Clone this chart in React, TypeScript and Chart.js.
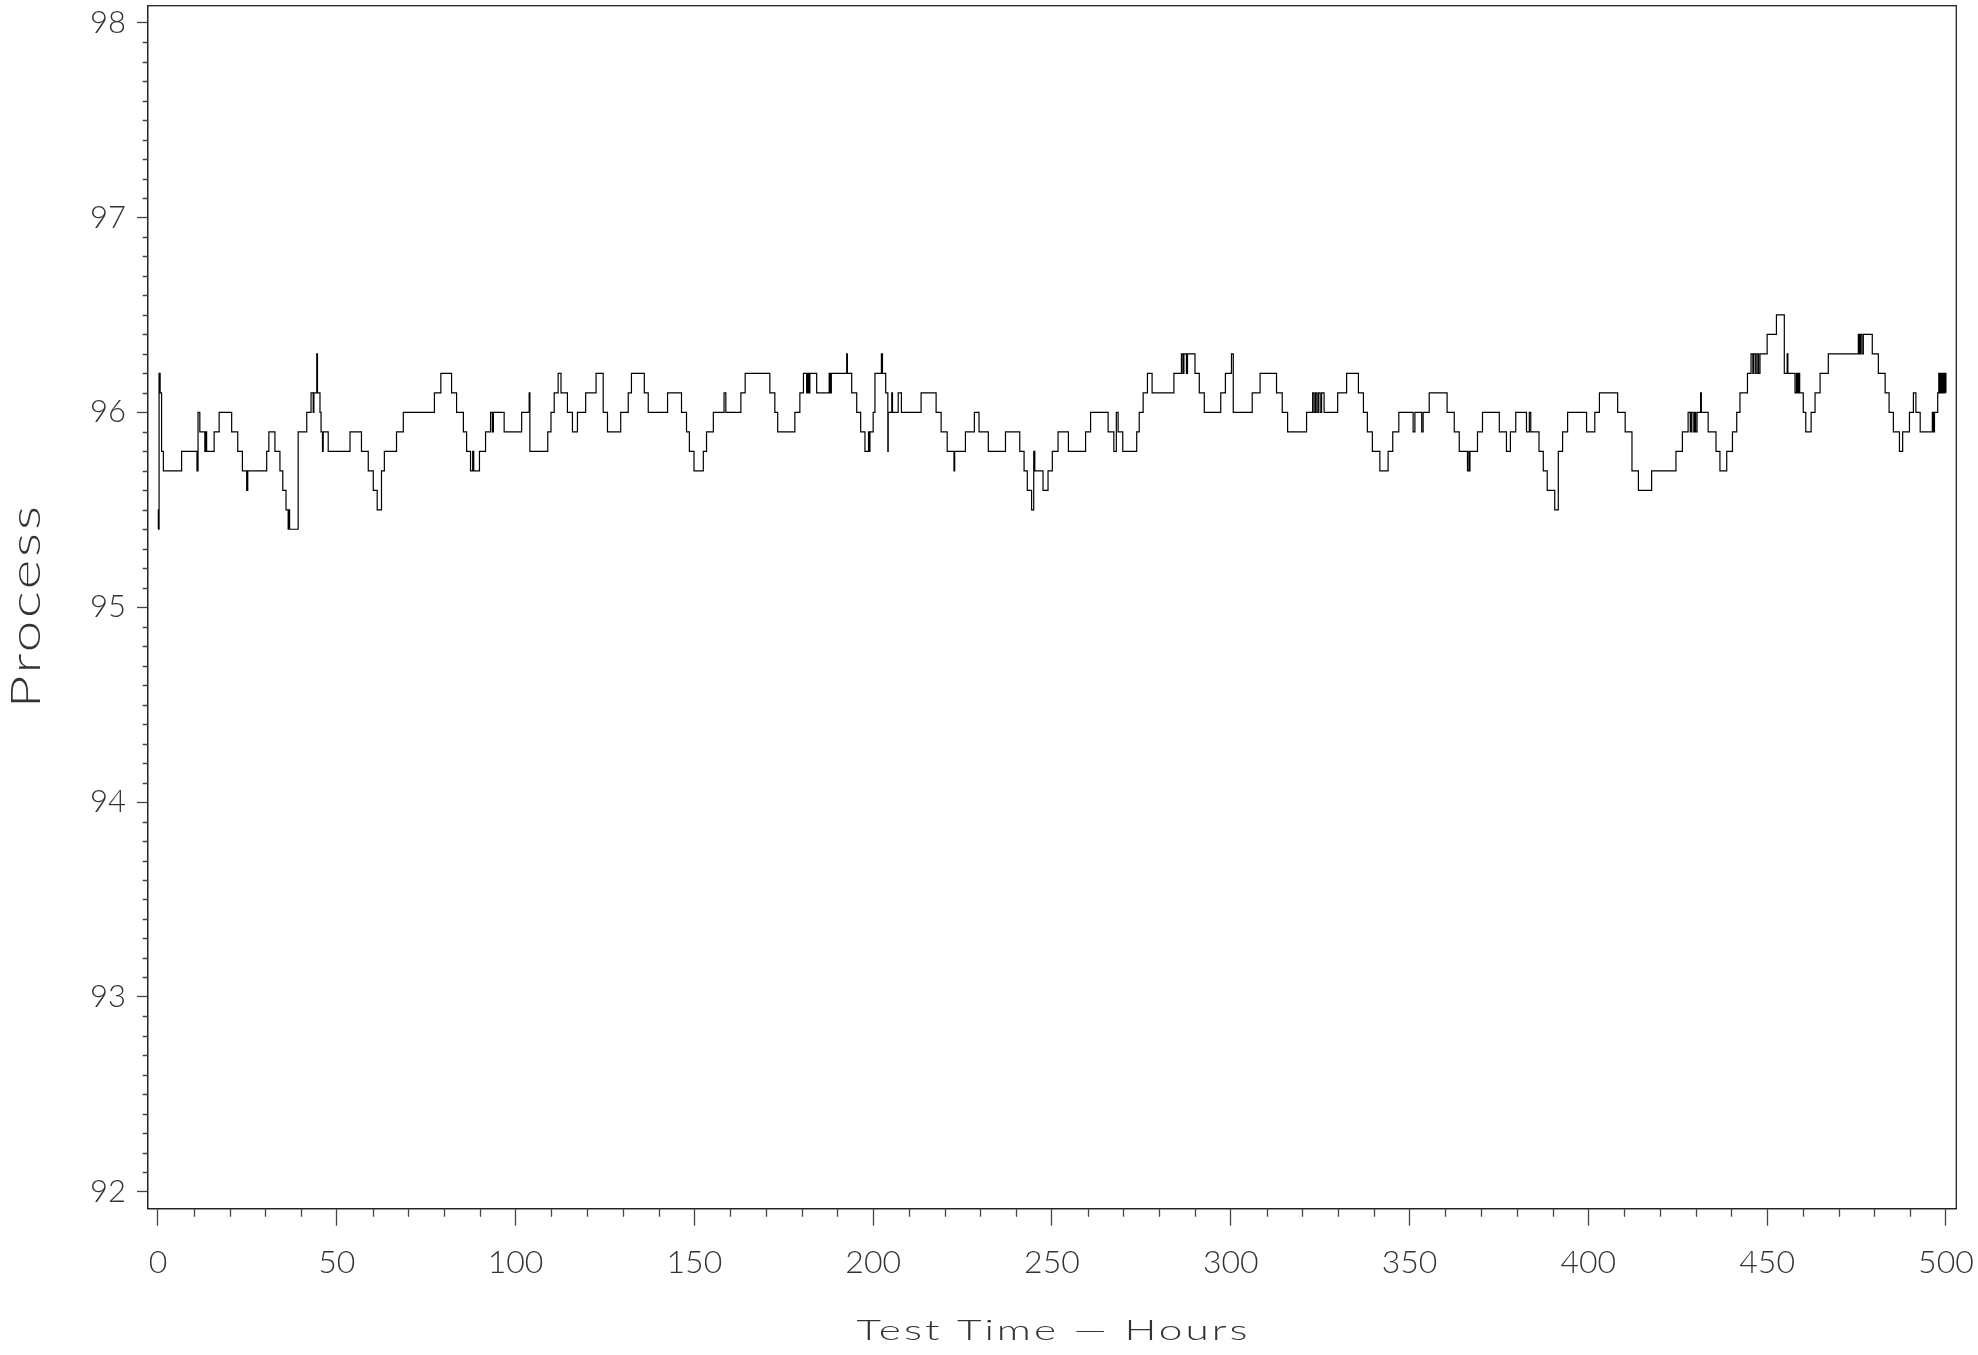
import React, { useEffect, useRef } from "react";
import { Chart, registerables } from "chart.js";

Chart.register(...registerables);

// Change points of the step trace: value holds from hours[i] until hours[i+1]
const hours = [
  0.0, 0.1, 0.2, 0.3, 0.6, 1.0, 1.5, 6.6, 10.9, 11.2, 11.7, 13.1, 13.4, 13.6, 15.7, 17.1, 20.6, 22.3, 23.6, 24.8,
  25.1, 30.4, 31.0, 32.7, 34.1, 34.9, 35.8, 36.4, 36.6, 36.8, 39.2, 41.6, 42.8, 43.4, 43.6, 44.4, 44.6, 45.3, 45.6, 46.0,
  46.2, 47.6, 53.7, 56.9, 58.8, 60.2, 61.3, 62.5, 63.3, 66.7, 68.6, 77.3, 79.1, 82.1, 83.5, 85.4, 86.3, 87.4, 88.0, 88.3,
  89.9, 91.6, 93.0, 93.5, 93.8, 96.8, 101.7, 103.8, 104.0, 109.0, 109.9, 110.8, 111.9, 112.7, 114.5, 115.9, 117.3, 119.6, 122.5, 124.5,
  125.7, 129.4, 131.5, 132.4, 136.0, 137.1, 142.5, 146.4, 147.8, 148.6, 149.9, 152.5, 153.4, 155.3, 158.3, 158.8, 163.0, 164.2, 171.1, 172.5,
  173.3, 178.1, 179.5, 180.5, 181.4, 181.7, 182.0, 182.3, 184.2, 187.7, 188.0, 188.3, 192.6, 192.8, 194.0, 195.4, 196.5, 197.7, 198.7, 198.9,
  199.1, 200.0, 200.5, 202.3, 202.6, 203.5, 204.1, 204.2, 205.2, 205.4, 207.0, 207.9, 213.4, 217.6, 219.0, 220.7, 222.6, 222.8, 225.8, 228.3,
  229.6, 232.2, 237.0, 241.0, 242.2, 243.1, 244.3, 244.9, 245.2, 247.5, 248.9, 250.1, 251.7, 254.6, 259.4, 260.8, 265.7, 267.3, 268.0, 268.5,
  269.8, 273.7, 274.4, 275.5, 276.7, 278.0, 284.1, 286.2, 286.6, 286.9, 287.6, 287.9, 290.0, 291.2, 292.6, 297.2, 298.5, 300.2, 300.7, 306.0,
  308.2, 312.8, 314.4, 315.9, 321.2, 322.9, 323.3, 323.7, 324.1, 324.5, 325.0, 325.4, 326.1, 329.9, 332.4, 335.7, 337.1, 338.2, 339.6, 341.7,
  344.0, 345.3, 347.0, 351.0, 351.5, 353.4, 353.8, 355.5, 360.5, 362.5, 363.9, 366.2, 366.6, 366.8, 366.9, 369.0, 370.4, 375.1, 377.1, 378.2,
  379.7, 382.7, 383.5, 383.9, 386.2, 387.4, 388.5, 390.6, 391.6, 392.8, 394.2, 399.5, 401.8, 403.1, 408.2, 410.3, 412.2, 414.0, 417.7, 424.5,
  426.3, 427.9, 428.5, 428.8, 429.3, 429.7, 430.0, 430.4, 431.4, 431.6, 433.5, 435.7, 436.8, 438.7, 440.3, 441.5, 442.4, 444.5, 445.5, 446.0,
  446.3, 446.8, 447.2, 447.6, 448.0, 450.0, 452.6, 454.8, 455.6, 455.8, 457.8, 458.2, 458.5, 458.8, 459.1, 460.1, 460.8, 462.3, 463.4, 464.8,
  467.1, 475.5, 475.8, 476.1, 476.5, 476.9, 479.4, 481.1, 483.0, 484.1, 485.3, 487.0, 487.9, 489.8, 490.9, 491.6, 492.8, 496.2, 496.5, 496.8,
  497.7, 498.0, 498.3, 498.6, 498.9, 499.2, 499.5, 499.8, 500.0,
];

const processValues = [
  95.4, 95.5, 95.4, 96.2, 96.1, 95.8, 95.7, 95.8, 95.7, 96.0, 95.9, 95.8, 95.9, 95.8, 95.9, 96.0, 95.9, 95.8, 95.7, 95.6,
  95.7, 95.8, 95.9, 95.8, 95.7, 95.6, 95.5, 95.4, 95.5, 95.4, 95.9, 96.0, 96.1, 96.0, 96.1, 96.3, 96.1, 96.0, 95.9, 95.8,
  95.9, 95.8, 95.9, 95.8, 95.7, 95.6, 95.5, 95.7, 95.8, 95.9, 96.0, 96.1, 96.2, 96.1, 96.0, 95.9, 95.8, 95.7, 95.8, 95.7,
  95.8, 95.9, 96.0, 95.9, 96.0, 95.9, 96.0, 96.1, 95.8, 95.9, 96.0, 96.1, 96.2, 96.1, 96.0, 95.9, 96.0, 96.1, 96.2, 96.0,
  95.9, 96.0, 96.1, 96.2, 96.1, 96.0, 96.1, 96.0, 95.9, 95.8, 95.7, 95.8, 95.9, 96.0, 96.1, 96.0, 96.1, 96.2, 96.1, 96.0,
  95.9, 96.0, 96.1, 96.2, 96.1, 96.2, 96.1, 96.2, 96.1, 96.2, 96.1, 96.2, 96.3, 96.2, 96.1, 96.0, 95.9, 95.8, 95.9, 95.8,
  95.9, 96.0, 96.2, 96.3, 96.2, 96.1, 95.8, 96.0, 96.1, 96.0, 96.1, 96.0, 96.1, 96.0, 95.9, 95.8, 95.7, 95.8, 95.9, 96.0,
  95.9, 95.8, 95.9, 95.8, 95.7, 95.6, 95.5, 95.8, 95.7, 95.6, 95.7, 95.8, 95.9, 95.8, 95.9, 96.0, 95.9, 95.8, 96.0, 95.9,
  95.8, 95.9, 96.0, 96.1, 96.2, 96.1, 96.2, 96.3, 96.2, 96.3, 96.2, 96.3, 96.2, 96.1, 96.0, 96.1, 96.2, 96.3, 96.0, 96.1,
  96.2, 96.1, 96.0, 95.9, 96.0, 96.1, 96.0, 96.1, 96.0, 96.1, 96.0, 96.1, 96.0, 96.1, 96.2, 96.1, 96.0, 95.9, 95.8, 95.7,
  95.8, 95.9, 96.0, 95.9, 96.0, 95.9, 96.0, 96.1, 96.0, 95.9, 95.8, 95.7, 95.8, 95.7, 95.8, 95.9, 96.0, 95.9, 95.8, 95.9,
  96.0, 95.9, 96.0, 95.9, 95.8, 95.7, 95.6, 95.5, 95.8, 95.9, 96.0, 95.9, 96.0, 96.1, 96.0, 95.9, 95.7, 95.6, 95.7, 95.8,
  95.9, 96.0, 95.9, 96.0, 95.9, 96.0, 95.9, 96.0, 96.1, 96.0, 95.9, 95.8, 95.7, 95.8, 95.9, 96.0, 96.1, 96.2, 96.3, 96.2,
  96.3, 96.2, 96.3, 96.2, 96.3, 96.4, 96.5, 96.2, 96.3, 96.2, 96.1, 96.2, 96.1, 96.2, 96.1, 96.0, 95.9, 96.0, 96.1, 96.2,
  96.3, 96.4, 96.3, 96.4, 96.3, 96.4, 96.3, 96.2, 96.1, 96.0, 95.9, 95.8, 95.9, 96.0, 96.1, 96.0, 95.9, 96.0, 95.9, 96.0,
  96.1, 96.2, 96.1, 96.2, 96.1, 96.2, 96.1, 96.2, 96.1,
];

const xMajorTicks = [0, 50, 100, 150, 200, 250, 300, 350, 400, 450, 500];
const yMajorTicks = [92, 93, 94, 95, 96, 97, 98];
const xMinorStep = 10;
const yMinorStep = 0.1;
const xTitle = "Test Time \u2014 Hours";
const yTitle = "Process";

const FONT = "Lato, 'DejaVu Sans', sans-serif";
const INK = "#333";

const decorPlugin = {
  id: "decor",
  afterDraw(chart: any) {
    const { ctx, chartArea } = chart;
    const xs = chart.scales.x;
    const ys = chart.scales.y;
    ctx.save();
    // frame
    ctx.strokeStyle = "#222";
    ctx.lineWidth = 1.3;
    ctx.strokeRect(chartArea.left, chartArea.top, chartArea.right - chartArea.left, chartArea.bottom - chartArea.top);
    // minor ticks
    ctx.strokeStyle = "#444";
    ctx.lineWidth = 1.3;
    ctx.beginPath();
    for (let i = 0; i <= 500 / xMinorStep; i++) {
      const v = i * xMinorStep;
      if (v % 50 === 0) continue;
      const px = Math.round(xs.getPixelForValue(v)) + 0.5;
      ctx.moveTo(px, chartArea.bottom);
      ctx.lineTo(px, chartArea.bottom + 8);
    }
    for (let i = 0; i <= 60; i++) {
      const v = 92 + i * yMinorStep;
      if (i % 10 === 0) continue;
      const py = Math.round(ys.getPixelForValue(v)) + 0.5;
      ctx.moveTo(chartArea.left - 5, py);
      ctx.lineTo(chartArea.left, py);
    }
    ctx.stroke();

    // axis titles (glyphs widened horizontally, like the original stroke font)
    ctx.fillStyle = INK;
    const drawWide = (text: string, size: number, target: number, x: number, y: number, rot: number) => {
      ctx.save();
      ctx.translate(x, y);
      ctx.rotate(rot);
      ctx.font = `300 ${size}px ${FONT}`;
      (ctx as any).letterSpacing = "2px";
      const w0 = ctx.measureText(text).width;
      ctx.scale(target / w0, 1);
      ctx.textAlign = "center";
      ctx.textBaseline = "alphabetic";
      ctx.fillText(text, 1, 0);
      ctx.restore();
    };
    const cx = (chartArea.left + chartArea.right) / 2;
    const cy = (chartArea.top + chartArea.bottom) / 2;
    drawWide(xTitle, 28, 394, cx, chart.height - 15, 0);
    drawWide(yTitle, 41, 205, 40, cy, -Math.PI / 2);
    ctx.restore();
  },
};

const zeroPadding = (s: any) => {
  s.paddingLeft = 0;
  s.paddingRight = 0;
  s.paddingTop = 0;
  s.paddingBottom = 0;
};

export default function App() {
  const ref = useRef<HTMLCanvasElement | null>(null);
  useEffect(() => {
    if (!ref.current) return;
    const points = hours.map((h, i) => ({ x: h, y: processValues[i] }));
    const chart = new Chart(ref.current, {
      type: "line",
      data: {
        datasets: [
          {
            data: points,
            stepped: "before",
            borderColor: "#000",
            borderWidth: 1.2,
            pointRadius: 0,
            fill: false,
          },
        ],
      },
      options: {
        animation: false,
        responsive: false,
        maintainAspectRatio: false,
        layout: { padding: { left: 0, top: 5.7, right: 21.7, bottom: 0 } },
        plugins: { legend: { display: false }, tooltip: { enabled: false } },
        scales: {
          x: {
            type: "linear",
            min: -2.88,
            max: 502.9,
            afterBuildTicks: (s: any) => {
              s.ticks = xMajorTicks.map((v) => ({ value: v }));
            },
            afterFit: (s: any) => {
              s.height = 146.3;
              zeroPadding(s);
            },
            grid: {
              display: true,
              drawOnChartArea: false,
              drawTicks: true,
              tickLength: 17,
              tickColor: "#444",
              tickWidth: 1.3,
            },
            border: { display: true, color: "#555", width: 1.3 },
            ticks: {
              autoSkip: false,
              maxRotation: 0,
              padding: 18,
              color: INK,
              font: { family: FONT, size: 32, weight: "300" },
              callback: (v: any) => String(v),
            },
          },
          y: {
            type: "linear",
            min: 91.913,
            max: 98.087,
            afterBuildTicks: (s: any) => {
              s.ticks = yMajorTicks.map((v) => ({ value: v }));
            },
            afterFit: (s: any) => {
              s.width = 147.7;
              zeroPadding(s);
            },
            grid: {
              display: true,
              drawOnChartArea: false,
              drawTicks: true,
              tickLength: 10.7,
              tickColor: "#444",
              tickWidth: 1.3,
            },
            border: { display: true, color: "#555", width: 1.3 },
            ticks: {
              autoSkip: false,
              padding: 11,
              color: INK,
              font: { family: FONT, size: 31, weight: "300" },
              callback: (v: any) => String(v),
            },
          },
        },
      },
      plugins: [decorPlugin],
    });
    return () => chart.destroy();
  }, []);
  return (
    <div style={{ position: "fixed", left: 0, top: 0, width: 1978, height: 1355, background: "#fff" }}>
      <canvas ref={ref} width={1978} height={1355} style={{ width: 1978, height: 1355, display: "block" }} />
    </div>
  );
}
